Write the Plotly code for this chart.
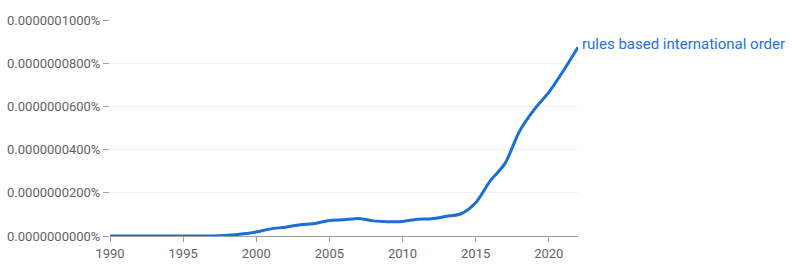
import plotly.graph_objects as go

years = list(range(1990, 2023))
values_e8 = [0, 0, 0, 0, 0, 0, 0, 0, 0.03, 0.09, 0.19, 0.33, 0.41, 0.52, 0.58, 0.72, 0.75, 0.81, 0.70, 0.66, 0.67, 0.78, 0.80, 0.91, 1.03, 1.54, 2.55, 3.35, 4.85, 5.85, 6.65, 7.65, 8.74]
values = [v * 1e-8 for v in values_e8]
series_name = "rules based international order"
y_ticks = [0, 2e-8, 4e-8, 6e-8, 8e-8, 1e-7]
y_tick_labels = ["0.0000000000%", "0.0000000200%", "0.0000000400%",
                 "0.0000000600%", "0.0000000800%", "0.0000001000%"]
x_ticks = [1990, 1995, 2000, 2005, 2010, 2015, 2020]

line_color = "#1a6fd6"
text_gray = "#5f6368"

fig = go.Figure()
fig.add_trace(go.Scatter(x=years, y=values, mode="lines",
                         line=dict(color=line_color, width=3, shape="spline", smoothing=0.8),
                         hoverinfo="skip", showlegend=False))
fig.add_annotation(x=years[-1], y=values[-1], text=series_name, showarrow=False,
                   xanchor="left", yanchor="middle", xshift=2, yshift=3,
                   font=dict(family="Roboto", size=15, color="#1a73e8"))
fig.update_layout(
    width=792, height=269,
    margin=dict(l=110, r=214, t=20, b=33),
    paper_bgcolor="white", plot_bgcolor="white",
    font=dict(family="Roboto", size=13, color=text_gray),
    xaxis=dict(range=[1990, 2022], tickvals=x_ticks, showgrid=False, zeroline=False,
               showline=True, linecolor="#9aa0a6", linewidth=1, automargin=False,
               ticks="outside", ticklen=5, tickcolor="#9aa0a6",
               tickfont=dict(family="Roboto", size=13, color=text_gray)),
    yaxis=dict(range=[0, 1e-7], tickvals=y_ticks, ticktext=y_tick_labels,
               showgrid=True, gridcolor="#f1f1f1", zeroline=False, automargin=False,
               ticks="outside", ticklen=6, tickcolor="#9aa0a6",
               tickfont=dict(family="Roboto", size=13, color=text_gray)),
)
fig.write_html("out.html")
